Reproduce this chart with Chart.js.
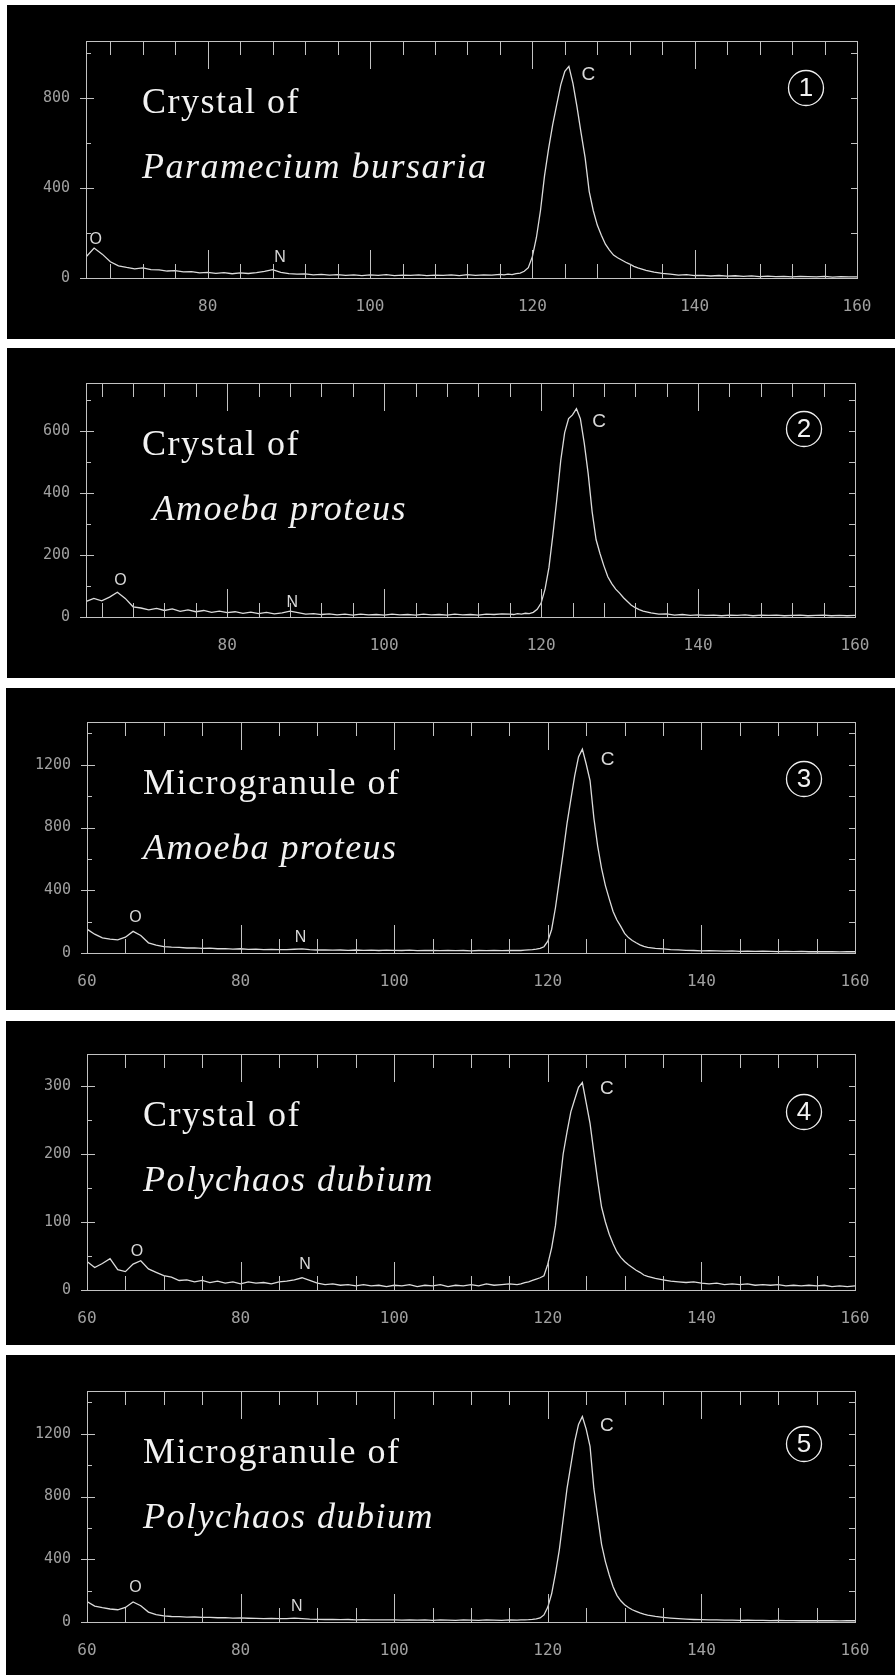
<!DOCTYPE html>
<html>
<head>
<meta charset="utf-8">
<script src="https://cdn.jsdelivr.net/npm/chart.js@4.4.0/dist/chart.umd.min.js"></script>
<style>
  html, body { margin: 0; padding: 0; background: #fff; }
  body { width: 895px; height: 1675px; position: relative; overflow: hidden; }
  canvas { position: absolute; background: #000; }
</style>
</head>
<body>
<canvas id="p1"></canvas>
<canvas id="p2"></canvas>
<canvas id="p3"></canvas>
<canvas id="p4"></canvas>
<canvas id="p5"></canvas>
<script>
// energy loss (eV), shared by all five spectra
var energy = [
  60,61,62,63,64,65,66,67,68,69,70,71,72,73,74,75,76,77,78,79,
  80,81,82,83,84,85,86,87,88,89,90,91,92,93,94,95,96,97,98,99,
  100,101,102,103,104,105,106,107,108,109,110,111,112,113,114,115,116,
  116.5,117,117.5,118,118.5,119,119.5,120,120.5,121,121.5,122,122.5,123,123.5,124,124.5,
  125,125.5,126,126.5,127,127.5,128,128.5,129,129.5,130,130.5,131,131.5,132,132.5,133,
  134,135,136,137,138,139,140,141,142,143,144,145,146,147,148,149,150,
  151,152,153,154,155,156,157,158,159,160
];

// 1: crystal of Paramecium bursaria
var crystalParamecium = [
  88,92,97,101,104,93,133,106,72,54,47,41,45,37,36,31,33,27,28,23,
  25,21,24,19,23,20,24,29,37,25,19,17,18,14,16,13,15,12,14,11,
  14,12,15,11,13,12,14,11,13,12,14,11,15,12,14,13,16,
  14,17,15,19,22,30,46,95,180,300,455,575,680,770,858,918,940,
  865,760,645,535,385,300,235,190,150,124,102,90,80,70,62,52,45,
  34,26,21,17,13,15,11,12,9,11,8,10,7,9,6,8,6,
  7,5,7,6,5,7,4,6,5,5
];

// 2: crystal of Amoeba proteus
var crystalAmoeba = [
  48,56,50,60,52,64,80,60,33,29,23,28,21,26,18,23,17,21,15,19,
  14,17,12,16,11,15,10,13,19,14,9,11,8,10,7,9,6,9,7,8,
  6,9,7,8,6,9,7,8,6,9,7,8,6,9,8,10,9,
  8,11,9,12,11,15,25,45,90,160,265,380,505,595,640,652,672,
  640,560,462,340,250,205,165,130,108,90,77,62,50,38,30,24,19,
  13,9,10,6,8,5,7,5,6,4,6,5,7,4,6,5,6,
  4,5,6,4,5,6,4,5,4,5
];

// 3: microgranule of Amoeba proteus
var granuleAmoeba = [
  152,120,97,88,84,101,138,112,65,50,41,37,36,32,33,29,31,27,28,25,
  27,23,25,22,23,21,22,24,26,21,19,20,18,19,17,19,17,18,16,18,
  17,16,18,15,17,16,15,17,15,16,14,16,15,17,15,16,17,
  16,18,20,22,25,30,40,75,150,290,465,640,825,980,1130,1250,1300,
  1205,1100,860,680,540,430,345,265,210,170,125,98,80,65,52,42,36,
  30,26,22,20,17,16,14,15,13,12,13,11,12,10,11,10,9,
  10,9,10,8,9,8,9,7,8,8
];

// 4: crystal of Polychaos dubium
var crystalPolychaos = [
  42,33,39,46,30,27,38,43,31,26,21,19,14,15,12,14,11,13,10,12,
  9,12,10,11,9,12,13,15,18,14,10,8,9,7,8,6,8,6,7,5,
  7,6,8,5,7,6,8,5,7,6,8,6,9,7,8,9,8,
  9,11,12,14,16,18,21,38,62,95,150,200,232,262,280,298,305,
  275,245,202,160,122,100,82,68,56,48,42,37,33,29,26,22,20,
  17,15,13,12,11,12,10,9,10,8,9,8,9,7,8,7,8,
  6,7,6,7,6,7,5,6,5,6
];

// 5: microgranule of Polychaos dubium
var granulePolychaos = [
  130,101,91,83,78,93,128,104,63,47,39,35,34,31,32,29,30,27,28,25,
  26,24,23,22,23,21,22,25,21,18,17,16,17,15,16,14,15,13,14,13,
  13,12,14,12,13,11,13,12,11,13,12,11,13,12,11,13,12,
  13,14,15,17,20,26,45,95,180,310,460,655,850,1000,1150,1260,1310,
  1230,1120,850,670,495,385,300,225,170,135,110,92,78,68,58,50,44,
  36,30,25,21,18,16,15,14,13,12,12,11,11,10,10,9,10,
  9,9,8,9,8,8,8,7,8,8
];

// tick values
var xTicksFine = [64,68,72,76,80,84,88,92,96,100,104,108,112,116,120,124,128,132,136,140,144,148,152,156,160];
var xTicksFive = [60,65,70,75,80,85,90,95,100,105,110,115,120,125,130,135,140,145,150,155,160];
var yTicks1 = [0,200,400,600,800,1000];
var yTicks2 = [0,100,200,300,400,500,600,700];
var yTicks3 = [0,200,400,600,800,1000,1200,1400];
var yTicks4 = [0,50,100,150,200,250,300];
var yLabels1 = [0,400,800];
var yLabels2 = [0,200,400,600];
var yLabels3 = [0,400,800,1200];
var yLabels4 = [0,100,200,300];

var titles = [
  ['Crystal of', 'Paramecium bursaria'],
  ['Crystal of', ' Amoeba proteus'],
  ['Microgranule of', 'Amoeba proteus'],
  ['Crystal of', 'Polychaos dubium'],
  ['Microgranule of', 'Polychaos dubium']
];

// peak labels: [text, energy, counts]
var marks1 = [['O', 66.2, 169], ['N', 88.9, 89], ['C', 126.9, 905]];
var marks2 = [['O', 66.4, 119], ['N', 88.3, 45], ['C', 127.4, 629]];
var marks3 = [['O', 66.3, 223], ['N', 87.8, 96], ['C', 127.8, 1231]];
var marks4 = [['O', 66.5, 56], ['N', 88.4, 37], ['C', 127.7, 296]];
var marks5 = [['O', 66.3, 217], ['N', 87.3, 96], ['C', 127.7, 1250]];

var panels = [
  { id: 'p1', counts: crystalParamecium, xMin: 65, yMax: 1053, xTicks: xTicksFine, yTicks: yTicks1, yLabels: yLabels1, marks: marks1, num: '1',
    box: [7, 5, 888, 334], area: [86, 41, 857, 278], numDy: 47 },
  { id: 'p2', counts: crystalAmoeba, xMin: 62, yMax: 755, xTicks: xTicksFine, yTicks: yTicks2, yLabels: yLabels2, marks: marks2, num: '2',
    box: [7, 348, 888, 330], area: [86, 383, 855, 617], numDy: 46 },
  { id: 'p3', counts: granuleAmoeba, xMin: 60, yMax: 1473, xTicks: xTicksFive, yTicks: yTicks3, yLabels: yLabels3, marks: marks3, num: '3',
    box: [6, 688, 889, 322], area: [87, 722, 855, 953], numDy: 57 },
  { id: 'p4', counts: crystalPolychaos, xMin: 60, yMax: 347, xTicks: xTicksFive, yTicks: yTicks4, yLabels: yLabels4, marks: marks4, num: '4',
    box: [6, 1021, 889, 324], area: [87, 1054, 855, 1290], numDy: 58 },
  { id: 'p5', counts: granulePolychaos, xMin: 60, yMax: 1473, xTicks: xTicksFive, yTicks: yTicks3, yLabels: yLabels3, marks: marks5, num: '5',
    box: [6, 1355, 889, 320], area: [87, 1391, 855, 1622], numDy: 53 }
];

var axisGray = '#c2c2c2';
var labelGray = '#a0a0a0';

function makeDecor(p, idx) {
  return {
    id: 'decor',
    afterDraw: function (chart) {
      var ctx = chart.ctx, a = chart.chartArea;
      var xs = chart.scales.x, ys = chart.scales.y;
      ctx.save();
      // frame and inward ticks
      ctx.strokeStyle = axisGray;
      ctx.lineWidth = 1;
      ctx.strokeRect(a.left + 0.5, a.top + 0.5, a.right - a.left, a.bottom - a.top);
      ctx.beginPath();
      xs.ticks.forEach(function (t) {
        if (t.value <= p.xMin) return;
        var px = Math.round(xs.getPixelForValue(t.value)) + 0.5;
        var len = t.value % 20 === 0 ? 28 : 14;
        ctx.moveTo(px, a.bottom); ctx.lineTo(px, a.bottom - len);
        ctx.moveTo(px, a.top); ctx.lineTo(px, a.top + len);
      });
      ys.ticks.forEach(function (t) {
        var py = Math.round(ys.getPixelForValue(t.value)) + 0.5;
        if (p.yLabels.indexOf(t.value) >= 0) {
          ctx.moveTo(a.left - 6, py); ctx.lineTo(a.left + 8, py);
        } else {
          ctx.moveTo(a.left, py); ctx.lineTo(a.left + 5, py);
        }
        ctx.moveTo(a.right, py); ctx.lineTo(a.right - 6, py);
      });
      ctx.stroke();

      // sample name
      ctx.fillStyle = '#f2f2f2';
      ctx.textAlign = 'left';
      ctx.textBaseline = 'alphabetic';
      ctx.letterSpacing = '1.5px';
      ctx.font = '36px "Liberation Serif", "DejaVu Serif", serif';
      ctx.fillText(titles[idx][0], a.left + 56, a.top + 72);
      ctx.font = 'italic 36px "Liberation Serif", "DejaVu Serif", serif';
      ctx.fillText(titles[idx][1], a.left + 56, a.top + 137);
      ctx.letterSpacing = '0px';

      // edge labels
      ctx.fillStyle = '#d8d8d8';
      ctx.textAlign = 'center';
      ctx.textBaseline = 'middle';
      p.marks.forEach(function (m) {
        ctx.font = (m[0] === 'C' ? '19px' : '16px') + ' "Liberation Sans", sans-serif';
        ctx.fillText(m[0], xs.getPixelForValue(m[1]), ys.getPixelForValue(m[2]));
      });

      // circled panel number
      var cx = a.right - 51, cy = a.top + p.numDy;
      ctx.strokeStyle = '#eeeeee';
      ctx.lineWidth = 1.3;
      ctx.beginPath();
      ctx.arc(cx, cy, 17.5, 0, Math.PI * 2);
      ctx.stroke();
      ctx.fillStyle = '#f2f2f2';
      ctx.font = '26px "Liberation Sans", sans-serif';
      ctx.fillText(p.num, cx, cy + 1);
      ctx.restore();
    }
  };
}

panels.forEach(function (p, idx) {
  var cv = document.getElementById(p.id);
  var b = p.box, ar = p.area;
  cv.width = b[2];
  cv.height = b[3];
  cv.style.left = b[0] + 'px';
  cv.style.top = b[1] + 'px';
  cv.style.width = b[2] + 'px';
  cv.style.height = b[3] + 'px';

  var yWidth = ar[0] - b[0];
  var xHeight = b[1] + b[3] - ar[3];

  new Chart(cv, {
    type: 'line',
    data: {
      datasets: [{
        data: energy.map(function (e, i) { return { x: e, y: p.counts[i] }; }),
        borderColor: '#dcdcdc',
        borderWidth: 1.3,
        pointRadius: 0,
        tension: 0,
        fill: false
      }]
    },
    options: {
      responsive: false,
      animation: false,
      events: [],
      layout: {
        autoPadding: false,
        padding: { left: 0, top: ar[1] - b[1], right: b[0] + b[2] - ar[2], bottom: 0 }
      },
      plugins: { legend: { display: false }, tooltip: { enabled: false } },
      scales: {
        x: {
          type: 'linear',
          min: p.xMin,
          max: 160,
          grid: { display: false },
          border: { display: false },
          afterBuildTicks: function (s) { s.ticks = p.xTicks.map(function (v) { return { value: v }; }); },
          afterFit: function (s) { s.height = xHeight; },
          ticks: {
            autoSkip: false,
            maxRotation: 0,
            padding: 11,
            color: labelGray,
            font: { family: 'DejaVu Sans Mono', size: 16 },
            callback: function (v) { return v % 20 === 0 ? String(v) : ''; }
          }
        },
        y: {
          type: 'linear',
          min: 0,
          max: p.yMax,
          grid: { display: false },
          border: { display: false },
          afterBuildTicks: function (s) { s.ticks = p.yTicks.map(function (v) { return { value: v }; }); },
          afterFit: function (s) { s.width = yWidth; },
          ticks: {
            autoSkip: false,
            padding: 8,
            color: labelGray,
            font: { family: 'DejaVu Sans Mono', size: 15 },
            callback: function (v) { return p.yLabels.indexOf(v) >= 0 ? String(v) : ''; }
          }
        }
      }
    },
    plugins: [makeDecor(p, idx)]
  });
});
</script>
</body>
</html>
